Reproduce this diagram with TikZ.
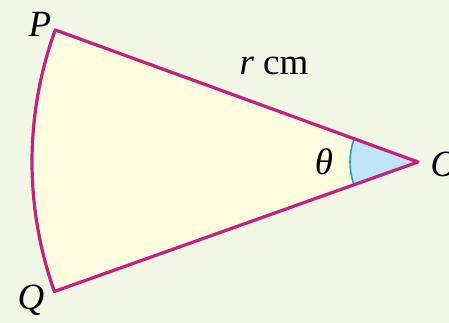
\documentclass[tikz,border=0pt]{standalone}
\usepackage{fontspec}
\setmainfont{Liberation Serif}
\usetikzlibrary{calc}
\definecolor{bgcol}{HTML}{F2F6E4}
\definecolor{sectorfill}{HTML}{FFFCDF}
\definecolor{edgecol}{HTML}{C4217E}
\definecolor{anglefill}{HTML}{BFE6F7}
\definecolor{anglearc}{HTML}{2A9FC6}
\begin{document}
\begin{tikzpicture}[x=1pt,y=1pt,
  lbl/.style={font=\fontsize{37}{42}\selectfont\itshape, inner sep=0pt, anchor=base},
  edge/.style={draw=edgecol, line width=3.2pt, line join=round}]
\useasboundingbox (0,0) rectangle (449,323);
\fill[bgcol] (0,0) rectangle (449,323);
\coordinate (O) at (418,161);
\coordinate (P) at ($(O)+(160:386pt)$);
\coordinate (Q) at ($(O)+(199.6:386pt)$);
\fill[sectorfill] (O) -- (P) arc[start angle=160, end angle=199.6, radius=386pt] -- cycle;
\fill[anglefill] (O) -- ++(160:68pt) arc[start angle=160, end angle=199.6, radius=68pt] -- cycle;
\draw[anglearc, line width=1.6pt] (O) ++(160:68pt) arc[start angle=160, end angle=199.6, radius=68pt];
\draw[edge] (O) -- (P) arc[start angle=160, end angle=199.6, radius=386pt] -- cycle;
\node[lbl] (lP) at (40,286) {P};
\node[lbl] (lQ) at (31,13) {Q};
\node[lbl] (lO) at (444,146) {O};
\node[lbl] (lth) at (324,148) {θ};
\node[lbl] (lr) at (274,248) {r\upshape{} cm};
\end{tikzpicture}
\end{document}
